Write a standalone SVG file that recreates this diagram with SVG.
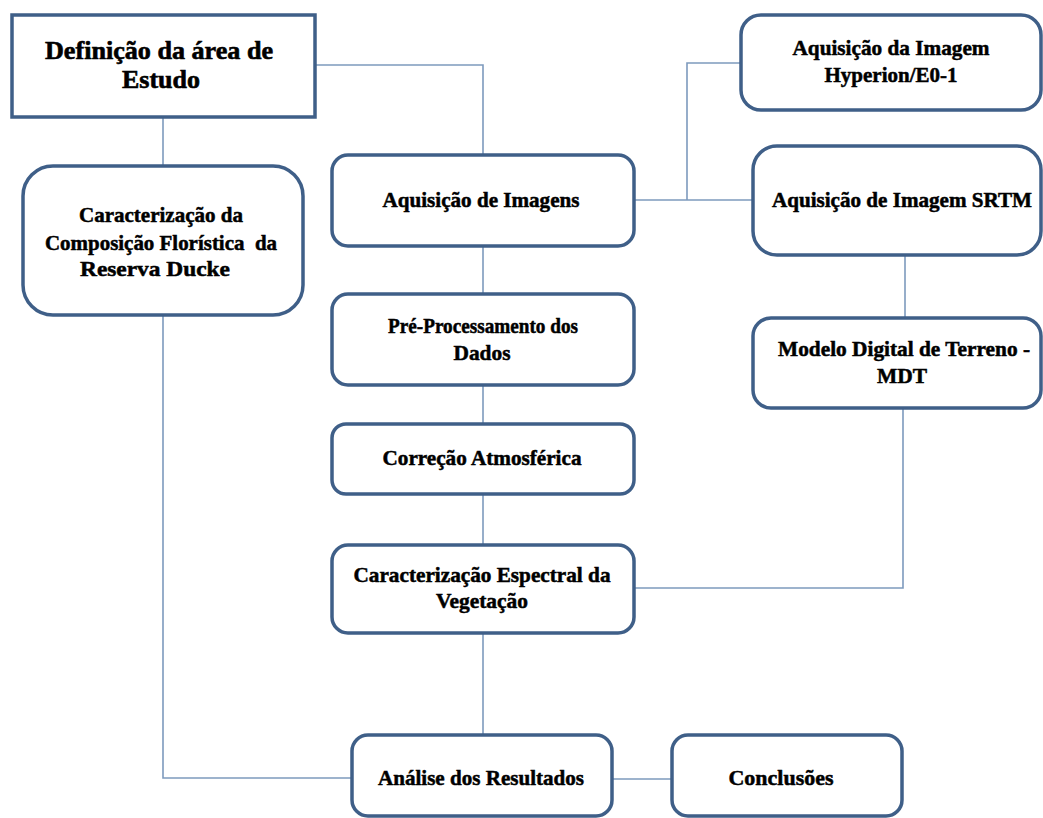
<svg xmlns="http://www.w3.org/2000/svg" width="1043" height="818" viewBox="0 0 1043 818">
<style>
.box{fill:#ffffff;stroke:#3f5f88;stroke-width:3.5}
.c{fill:none;stroke:#7d9abd;stroke-width:1.6}
text{font-family:"Liberation Serif","Times New Roman",serif;font-weight:bold;fill:#000;stroke:#000;stroke-width:0.5;text-anchor:middle;font-size:21px}
.big{font-size:25px;stroke-width:0.6}
</style>
<rect width="1043" height="818" fill="#ffffff"/>
<g id="connectors">
<path class="c" d="M315,65 H483 V155"/>
<path class="c" d="M163,117 V165"/>
<path class="c" d="M163,315 V778 H352"/>
<path class="c" d="M634,200 H754"/>
<path class="c" d="M687,200 V63 H740"/>
<path class="c" d="M905,255 V318"/>
<path class="c" d="M903,408 V588 H634"/>
<path class="c" d="M483,246 V294"/>
<path class="c" d="M483,385 V424"/>
<path class="c" d="M483,494 V545"/>
<path class="c" d="M483,633 V735"/>
<path class="c" d="M612,779 H672"/>
</g>
<g id="n-definicao">
<rect class="box" x="12" y="15" width="303" height="102"/>
<text class="big" x="159" y="59" textLength="228" lengthAdjust="spacingAndGlyphs">Definição da área de</text>
<text class="big" x="161" y="88" textLength="78" lengthAdjust="spacingAndGlyphs">Estudo</text>
</g>
<g id="n-caracterizacao">
<rect class="box" x="23" y="166" width="280" height="149" rx="30"/>
<text x="161" y="222" textLength="164" lengthAdjust="spacingAndGlyphs">Caracterização da</text>
<text x="161" y="250" textLength="232" lengthAdjust="spacingAndGlyphs" style="white-space:pre">Composição Florística  da</text>
<text x="155" y="276" textLength="150" lengthAdjust="spacingAndGlyphs">Reserva Ducke</text>
</g>
<g id="n-aquisicao">
<rect class="box" x="332" y="155" width="302" height="91" rx="16"/>
<text x="481" y="207" textLength="197" lengthAdjust="spacingAndGlyphs">Aquisição de Imagens</text>
</g>
<g id="n-hyperion">
<rect class="box" x="741" y="15" width="300" height="95" rx="20"/>
<text x="891" y="55" textLength="197" lengthAdjust="spacingAndGlyphs">Aquisição da Imagem</text>
<text x="891" y="82" textLength="133" lengthAdjust="spacingAndGlyphs">Hyperion/E0-1</text>
</g>
<g id="n-srtm">
<rect class="box" x="753" y="146" width="288" height="109" rx="24"/>
<text x="902" y="207" textLength="260" lengthAdjust="spacingAndGlyphs">Aquisição de Imagem SRTM</text>
</g>
<g id="n-mdt">
<rect class="box" x="753" y="318" width="288" height="90" rx="18"/>
<text x="904" y="356" textLength="252" lengthAdjust="spacingAndGlyphs">Modelo Digital de Terreno -</text>
<text x="902" y="383" textLength="50" lengthAdjust="spacingAndGlyphs">MDT</text>
</g>
<g id="n-preprocessamento">
<rect class="box" x="332" y="294" width="302" height="91" rx="16"/>
<text x="483" y="333" textLength="190" lengthAdjust="spacingAndGlyphs">Pré-Processamento dos</text>
<text x="482" y="360" textLength="57" lengthAdjust="spacingAndGlyphs">Dados</text>
</g>
<g id="n-correcao">
<rect class="box" x="332" y="424" width="302" height="70" rx="14"/>
<text x="482" y="465" textLength="199" lengthAdjust="spacingAndGlyphs">Correção Atmosférica</text>
</g>
<g id="n-espectral">
<rect class="box" x="332" y="545" width="302" height="88" rx="16"/>
<text x="482" y="582" textLength="257" lengthAdjust="spacingAndGlyphs">Caracterização Espectral da</text>
<text x="482" y="608" textLength="92" lengthAdjust="spacingAndGlyphs">Vegetação</text>
</g>
<g id="n-analise">
<rect class="box" x="352" y="735" width="260" height="81" rx="16"/>
<text x="481" y="785" textLength="206" lengthAdjust="spacingAndGlyphs">Análise dos Resultados</text>
</g>
<g id="n-conclusoes">
<rect class="box" x="672" y="735" width="230" height="81" rx="16"/>
<text x="781" y="785" textLength="105" lengthAdjust="spacingAndGlyphs">Conclusões</text>
</g>
</svg>
